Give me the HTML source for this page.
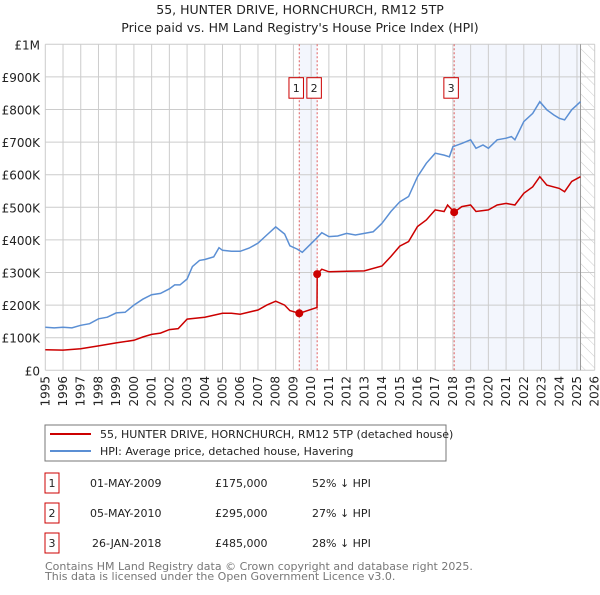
<!DOCTYPE html>
<html><head><meta charset="utf-8"><style>
body{margin:0;background:#fff;font-family:"Liberation Sans","DejaVu Sans",sans-serif;}
svg text{font-family:"DejaVu Sans","Liberation Sans",sans-serif;}
</style></head><body>
<svg id="c" width="600" height="590" xmlns="http://www.w3.org/2000/svg">
<text x="300" y="14" text-anchor="middle" font-size="12.5" fill="#222">55, HUNTER DRIVE, HORNCHURCH, RM12 5TP</text>
<text x="300" y="32" text-anchor="middle" font-size="12.5" fill="#222">Price paid vs. HM Land Registry's House Price Index (HPI)</text>
<g id="plot"></g>
<rect x="45" y="425" width="401" height="36" fill="none" stroke="#777"/>
<line x1="50" y1="434" x2="91" y2="434" stroke="#cc0000" stroke-width="2"/>
<text x="100" y="438" font-size="11" fill="#222">55, HUNTER DRIVE, HORNCHURCH, RM12 5TP (detached house)</text>
<line x1="50" y1="451" x2="91" y2="451" stroke="#5b8fd4" stroke-width="2"/>
<text x="100" y="455" font-size="11" fill="#222">HPI: Average price, detached house, Havering</text>
<g id="table" font-size="11" fill="#222"></g>
<text x="45" y="570" font-size="11" fill="#777">Contains HM Land Registry data © Crown copyright and database right 2025.</text>
<text x="45" y="580" font-size="11" fill="#777">This data is licensed under the Open Government Licence v3.0.</text>
</svg>
<script>
const yTicks=[0,100,200,300,400,500,600,700,800,900,1000];
const yLabels=["£0","£100K","£200K","£300K","£400K","£500K","£600K","£700K","£800K","£900K","£1M"];
const xYears=[1995,1996,1997,1998,1999,2000,2001,2002,2003,2004,2005,2006,2007,2008,2009,2010,2011,2012,2013,2014,2015,2016,2017,2018,2019,2020,2021,2022,2023,2024,2025,2026];
const hpiT=[1995,1995.5,1996,1996.5,1997,1997.5,1998,1998.5,1999,1999.5,2000,2000.5,2001,2001.5,2002,2002.3,2002.6,2003,2003.3,2003.7,2004,2004.5,2004.8,2005,2005.5,2006,2006.5,2007,2007.5,2008,2008.5,2008.8,2009.2,2009.5,2010.3,2010.6,2011,2011.5,2012,2012.5,2013,2013.5,2014,2014.5,2015,2015.5,2016,2016.5,2017,2017.5,2017.8,2018,2018.5,2019,2019.3,2019.7,2020,2020.5,2021,2021.3,2021.5,2022,2022.5,2022.9,2023.3,2023.7,2024,2024.3,2024.7,2025.2];
const hpiV=[132,130,132,130,138,143,158,163,176,178,200,218,232,236,250,262,262,280,318,337,340,348,376,368,365,365,375,390,415,440,418,382,372,362,405,422,410,412,420,415,420,425,451,487,517,533,594,635,666,660,655,686,696,707,681,691,681,707,712,717,707,763,788,824,799,783,773,768,799,824];
const priceT=[1995,1996,1997,1998,1999,2000,2000.5,2001,2001.5,2002,2002.5,2003,2004,2005,2005.5,2006,2007,2007.5,2008,2008.5,2008.8,2009.33,2010.33,2010.34,2010.6,2011,2012,2013,2014,2014.5,2015,2015.5,2016,2016.5,2017,2017.5,2017.7,2018.07,2018.5,2019,2019.3,2020,2020.5,2021,2021.5,2022,2022.5,2022.9,2023.3,2024,2024.3,2024.7,2025.2];
const priceV=[63,62,66,75,84,92,102,110,114,125,128,157,163,175,175,172,185,200,212,200,183,175,193,295,310,302,304,305,320,349,381,395,441,461,492,487,507,485,502,507,487,492,507,512,507,543,563,594,568,558,548,579,594];
const saleT=[2009.33,2010.34,2018.07];
const saleV=[175,295,485];
const saleLabels=["1","2","3"];
const saleDates=["01-MAY-2009","05-MAY-2010","26-JAN-2018"];
const salePrices=["£175,000","£295,000","£485,000"];
const saleDiffs=["52% ↓ HPI","27% ↓ HPI","28% ↓ HPI"];

const X0=45.3,X1=594.7,Y0=370.3,Y1=44.3;
const xs=t=>X0+(t-1995)/(2026-1995)*(X1-X0);
const ys=v=>Y0-v/1000*(Y0-Y1);
const NS="http://www.w3.org/2000/svg";
const plot=document.getElementById('plot');
function mk(tag,attrs,parent){const e=document.createElementNS(NS,tag);for(const k in attrs)e.setAttribute(k,attrs[k]);(parent||plot).appendChild(e);return e;}
let e=mk('rect',{x:xs(saleT[0]),y:Y1,width:xs(saleT[1])-xs(saleT[0]),height:Y0-Y1,fill:'#f3f6fd'});

e=mk('rect',{x:xs(saleT[2]),y:Y1,width:xs(2025.2)-xs(saleT[2]),height:Y0-Y1,fill:'#f3f6fd'});

const defs=mk('defs',{});
const pat=mk('pattern',{id:'h',width:8,height:8,patternUnits:'userSpaceOnUse',patternTransform:'rotate(-45)'},defs);
mk('line',{x1:0,y1:0,x2:0,y2:8,stroke:'#ccc','stroke-width':1},pat);
e=mk('rect',{x:xs(2025.2),y:Y1,width:X1-xs(2025.2),height:Y0-Y1,fill:'url(#h)'});

yTicks.forEach((v,i)=>{
 let l=mk('line',{x1:X0,x2:X1,y1:ys(v),y2:ys(v),stroke:'#ccc'});
 
 let t=mk('text',{x:40,y:ys(v)+5,'text-anchor':'end','font-size':12,fill:'#222'});t.textContent=yLabels[i];
 
});
xYears.forEach(yr=>{
 let l=mk('line',{x1:xs(yr),x2:xs(yr),y1:Y1,y2:Y0,stroke:'#ccc'});
 
 let t=mk('text',{x:0,y:0,'text-anchor':'end','font-size':12,fill:'#222',transform:`translate(${xs(yr)+4},376) rotate(-90)`});t.textContent=yr;
 
});
e=mk('line',{x1:xs(2025.2),x2:xs(2025.2),y1:Y1,y2:Y0,stroke:'#999'});

saleT.forEach((t,i)=>{
 let l=mk('line',{x1:xs(t),x2:xs(t),y1:Y1,y2:Y0,stroke:'#e06060','stroke-dasharray':'2,2'});
 
});
const path=(T,V)=>T.map((t,i)=>(i?'L':'M')+xs(t).toFixed(1)+','+ys(V[i]).toFixed(1)).join('');
e=mk('path',{d:path(hpiT,hpiV),fill:'none',stroke:'#5b8fd4','stroke-width':1.5});

e=mk('path',{d:path(priceT,priceV),fill:'none',stroke:'#cc0000','stroke-width':1.5});

saleT.forEach((t,i)=>{
 let c=mk('circle',{cx:xs(t),cy:ys(saleV[i]),r:4,fill:'#cc0000'});
 
 let r=mk('rect',{x:xs(t)-10.3,y:77.7,width:14.5,height:20.5,fill:'#fff',stroke:'#cc0000'});
 
 let tx=mk('text',{x:xs(t)-3,y:92,'text-anchor':'middle','font-size':11,fill:'#222'});tx.textContent=saleLabels[i];
 
});
const tb=document.getElementById('table');
saleT.forEach((t,i)=>{
 const y=483+i*30;
 let r=mk('rect',{x:45,y:y-10,width:14,height:20,fill:'none',stroke:'#cc0000'},tb);
 
 const cells=[[52,saleLabels[i],'middle'],[i==2?92:90,saleDates[i],'start'],[215,salePrices[i],'start'],[312,saleDiffs[i],'start']];
 cells.forEach(c=>{let tx=mk('text',{x:c[0],y:y+4,'text-anchor':c[2]},tb);tx.textContent=c[1];
  });
});
</script>
</body></html>
